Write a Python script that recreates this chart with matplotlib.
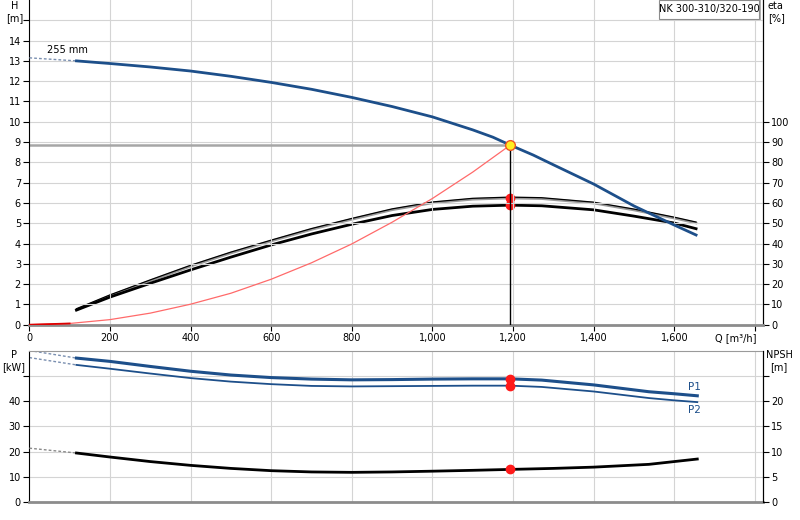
import matplotlib
matplotlib.use("Agg")
import matplotlib.pyplot as plt
import matplotlib.transforms as mtrans
from matplotlib.patches import Rectangle

plt.rcParams['font.family'] = ['DejaVu Sans']
plt.rcParams['font.size'] = 7
plt.rcParams['lines.solid_joinstyle'] = 'round'

# ---------------- data ----------------
q_h = [117, 200, 300, 400, 500, 600, 700, 800, 900, 1000, 1100, 1150, 1193, 1250, 1300, 1400, 1500, 1600, 1654]
h_vals = [13.0, 12.87, 12.7, 12.5, 12.24, 11.94, 11.6, 11.2, 10.75, 10.24, 9.6, 9.24, 8.85, 8.36, 7.88, 6.93, 5.85, 4.91, 4.42]
q_h_dash = [0, 117]
h_dash = [13.15, 13.0]

q_eta = [117, 200, 300, 400, 500, 600, 700, 800, 900, 1000, 1100, 1193, 1271, 1400, 1500, 1600, 1654]
eta_upper = [7.4, 14.2, 21.6, 28.8, 35.3, 41.2, 46.9, 51.9, 56.6, 60.0, 61.8, 62.4, 62.1, 59.9, 56.5, 52.5, 50.1]
eta_lower = [7.2, 13.6, 20.4, 27.0, 33.3, 39.3, 44.7, 49.5, 53.8, 56.8, 58.4, 58.9, 58.6, 56.6, 53.5, 50.1, 47.3]

q_sys = [0, 100, 200, 300, 400, 500, 600, 700, 800, 900, 1000, 1100, 1193]
h_sys = [0, 0.06, 0.25, 0.57, 1.01, 1.55, 2.24, 3.05, 3.98, 5.05, 6.22, 7.52, 8.85]

duty_q = 1193
duty_h = 8.85
duty_eta = [62.4, 58.9]

q_p = [117, 200, 300, 400, 500, 600, 700, 800, 900, 1000, 1100, 1193, 1271, 1400, 1537, 1600, 1657]
p1_vals = [57.0, 55.7, 53.7, 51.8, 50.3, 49.3, 48.7, 48.4, 48.5, 48.7, 48.8, 48.8, 48.3, 46.4, 43.7, 42.9, 42.1]
p2_vals = [54.3, 52.8, 50.9, 49.1, 47.7, 46.7, 46.0, 45.8, 45.9, 46.0, 46.1, 46.1, 45.6, 43.8, 41.2, 40.3, 39.6]
p1_dash = [60.0, 57.0]
p2_dash = [57.2, 54.3]
duty_p = [48.8, 46.1]

q_npsh = [117, 200, 300, 400, 500, 600, 700, 800, 900, 1000, 1100, 1193, 1300, 1400, 1537, 1657]
npsh_vals = [9.74, 8.95, 8.05, 7.3, 6.7, 6.25, 6.0, 5.92, 6.0, 6.15, 6.32, 6.5, 6.7, 6.95, 7.5, 8.55]
npsh_dash = [10.7, 9.74]
duty_npsh = 6.5

x_ticks = [0, 200, 400, 600, 800, 1000, 1200, 1400, 1600, 1800]
h_ticks = list(range(0, 16))
eta_ticks = list(range(0, 101, 10))
p_ticks = [0, 10, 20, 30, 40, 50]
npsh_ticks = [0, 5, 10, 15, 20, 25]

blue = '#1d4f8a'
dash_blue = '#7a8fb0'
grid_c = '#d4d4d4'
W, H = 800, 520

fig = plt.figure(figsize=(8, 5.2), dpi=100)

def px_axes(l, t, r, b):
    return fig.add_axes([l / W, 1 - b / H, (r - l) / W, (b - t) / H])

def style(ax):
    ax.set_xlim(0, 1820)
    ax.set_xticks(x_ticks)
    ax.grid(True, color=grid_c, lw=0.8)
    ax.set_axisbelow(True)
    ax.spines['top'].set_visible(False)
    ax.spines['bottom'].set_color('#8c8c8c')
    ax.spines['bottom'].set_linewidth(2)
    ax.spines['left'].set_color('black')
    ax.spines['right'].set_color('black')
    ax.tick_params(length=4, width=0.8, color='black', labelsize=7, pad=2)

# ---------------- top axes ----------------
ax = px_axes(29.3, 0, 763, 324.7)
style(ax)
ax.set_ylim(0, 16)
ax.set_yticks(h_ticks)
ax.set_yticklabels([str(v) if v <= 14 else '' for v in h_ticks])
ax.set_xticklabels([f"{v:,}" if v < 1800 else '' for v in x_ticks])
ax.annotate('Q [m³/h]', xy=(1805, 0), xycoords=('data', 'axes fraction'),
            xytext=(0, -6), textcoords='offset points', ha='right', va='top', fontsize=7)

axr = ax.twinx()
axr.set_ylim(0, 160)
axr.set_yticks(eta_ticks)
for s in ['top', 'bottom', 'left']:
    axr.spines[s].set_visible(False)
axr.spines['right'].set_color('black')
axr.tick_params(length=4, width=0.8, color='black', labelsize=7, pad=2)

# duty guide lines
ax.plot([0, duty_q], [duty_h, duty_h], color='#a6a6a6', lw=1.8, zorder=2)
ax.plot([duty_q, duty_q], [0, duty_h], color='black', lw=1, zorder=3)

# system curve
ax.plot(q_sys, h_sys, color='#ff6a6a', lw=0.9, zorder=3)
ax.plot(q_sys[:2], h_sys[:2], color='#dd0000', lw=1.3, zorder=3)

# eta curves
axr.plot(q_eta, eta_upper, color='#9a9a9a', lw=1.8, zorder=3)
off = mtrans.offset_copy(axr.transData, fig=fig, x=0, y=0.7, units='points')
axr.plot(q_eta, eta_upper, color='black', lw=0.9, zorder=4, transform=off)
axr.plot(q_eta, eta_lower, color='black', lw=2.0, zorder=4)

# head curve
ax.plot(q_h_dash, h_dash, color=dash_blue, lw=1, ls=(0, (2, 1.5)), zorder=4)
ax.plot(q_h, h_vals, color=blue, lw=2, zorder=5)
ax.text(45, 13.3, '255 mm', fontsize=7, ha='left', va='bottom')

# markers
axr.plot([duty_q] * 2, duty_eta, 'o', color='#ff1a1a', ms=6, zorder=6, mec='#ff1a1a')
ax.plot([duty_q], [duty_h], 'o', color='#ffee22', mec='#ee5522', mew=1, ms=7, zorder=7)

ax.set_zorder(axr.get_zorder() + 1)
ax.patch.set_visible(False)

# legend box
fig.patches.append(Rectangle((661 / W, 1 - 20 / H), 100 / W, 20 / H, transform=fig.transFigure,
                             facecolor='#b0b0b0', edgecolor='none', zorder=9))
fig.patches.append(Rectangle((659 / W, 1 - 18.5 / H), 100 / W, 19 / H, transform=fig.transFigure,
                             facecolor='white', edgecolor='#8c8c8c', lw=0.8, zorder=10))
fig.text(709 / W, 1 - 9 / H, 'NK 300-310/320-190', ha='center', va='center', fontsize=7, zorder=11)

# axis unit labels
fig.text(15 / W, 1 - 6 / H, 'H', ha='center', va='center', fontsize=7)
fig.text(15 / W, 1 - 18 / H, '[m]', ha='center', va='center', fontsize=7)
fig.text(768 / W, 1 - 6 / H, 'eta', ha='left', va='center', fontsize=7)
fig.text(768 / W, 1 - 18 / H, '[%]', ha='left', va='center', fontsize=7)

# ---------------- bottom axes ----------------
bx = px_axes(29.3, 350.5, 763, 502.3)
style(bx)
bx.spines['top'].set_visible(True)
bx.spines['top'].set_color('#9a9a9a')
bx.set_ylim(0, 60)
bx.set_yticks(p_ticks)
bx.set_yticklabels([str(v) if v <= 40 else '' for v in p_ticks])
bx.set_xticklabels([])
bx.tick_params(axis='x', length=0)

bxr = bx.twinx()
bxr.set_ylim(0, 30)
bxr.set_yticks(npsh_ticks)
bxr.set_yticklabels([str(v) if v <= 20 else '' for v in npsh_ticks])
for s in ['top', 'bottom', 'left']:
    bxr.spines[s].set_visible(False)
bxr.spines['right'].set_color('black')
bxr.tick_params(length=4, width=0.8, color='black', labelsize=7, pad=2)

bx.plot(q_h_dash, p1_dash, color=dash_blue, lw=1, ls=(0, (2, 1.5)))
bx.plot(q_h_dash, p2_dash, color=dash_blue, lw=1, ls=(0, (2, 1.5)))
bx.plot(q_p, p1_vals, color=blue, lw=2.2)
bx.plot(q_p, p2_vals, color=blue, lw=1.3)
bx.plot([duty_q] * 2, duty_p, 'o', color='#ff1a1a', ms=6)
bx.text(1650, 43.5, 'P1', color=blue, fontsize=7.5, ha='center', va='bottom')
bx.text(1650, 38.5, 'P2', color=blue, fontsize=7.5, ha='center', va='top')

bxr.plot(q_h_dash, npsh_dash, color='#8a8a8a', lw=1, ls=(0, (2, 1.5)))
bxr.plot(q_npsh, npsh_vals, color='black', lw=2)
bxr.plot([duty_q], [duty_npsh], 'o', color='#ff1a1a', ms=6)

fig.text(14 / W, 1 - 355 / H, 'P', ha='center', va='center', fontsize=7)
fig.text(14 / W, 1 - 367 / H, '[kW]', ha='center', va='center', fontsize=7)
fig.text(779 / W, 1 - 355 / H, 'NPSH', ha='center', va='center', fontsize=7)
fig.text(779 / W, 1 - 367 / H, '[m]', ha='center', va='center', fontsize=7)

fig.savefig('out.png', dpi=100)
